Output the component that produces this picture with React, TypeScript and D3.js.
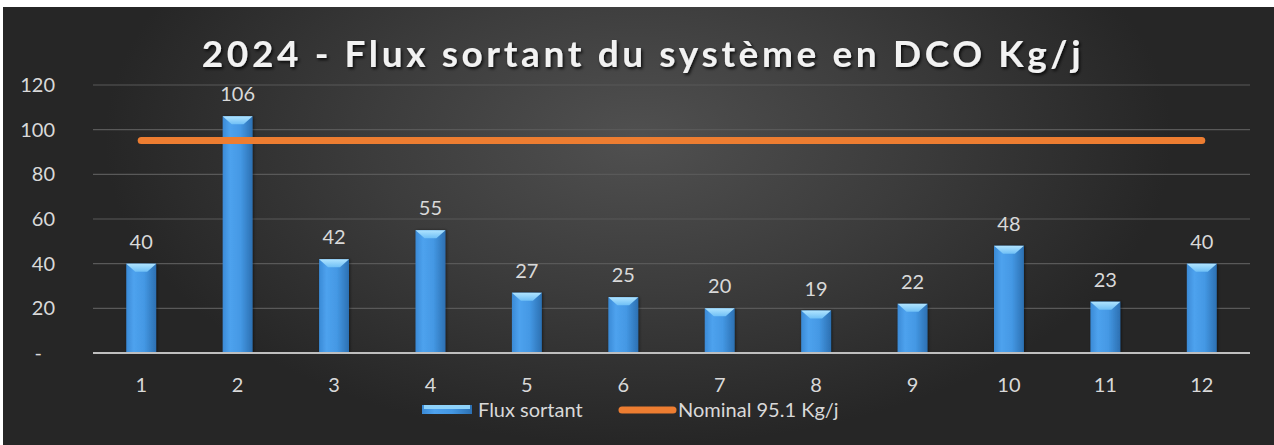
import React from "react";
import * as d3 from "d3";

const categories = ["1", "2", "3", "4", "5", "6", "7", "8", "9", "10", "11", "12"];
const fluxValues = [40, 106, 42, 55, 27, 25, 20, 19, 22, 48, 23, 40];
const nominalValue = 95.1;
const yTicks = [0, 20, 40, 60, 80, 100, 120];
const titleText = "2024 - Flux sortant du système en DCO Kg/j";
const legendLabels = ["Flux sortant", "Nominal 95.1 Kg/j"];

const W = 1274;
const H = 445;
const FONT = "Lato, 'Open Sans', sans-serif";

export default function App() {
  const plotLeft = 93;
  const plotRight = 1250;
  const plotTop = 85;
  const plotBottom = 353;

  const x = d3.scaleBand<string>().domain(categories).range([plotLeft, plotRight]).paddingInner(0.69).paddingOuter(0.345);
  const y = d3.scaleLinear().domain([0, 120]).range([plotBottom, plotTop]);
  const bw = x.bandwidth();
  const cx = (c: string) => (x(c) as number) + bw / 2;

  const lineGen = d3.line<number>().x((_, i) => cx(categories[i])).y((v) => y(v));
  const nominalLine = lineGen(categories.map(() => nominalValue)) || "";

  return (
    <svg width={W} height={H} style={{ position: "absolute", left: 0, top: 0 }} fontFamily={FONT}>
      <defs>
        <radialGradient id="bg" cx="0.5" cy="0.3" r="0.7" gradientTransform="translate(0.5 0.3) scale(0.6 1) translate(-0.5 -0.3)">
          <stop offset="0" stopColor="#505050" />
          <stop offset="0.5" stopColor="#3c3c3c" />
          <stop offset="1" stopColor="#262626" />
        </radialGradient>
        <linearGradient id="barG" x1="0" x2="1" y1="0" y2="0">
          <stop offset="0" stopColor="#3a8ad6" />
          <stop offset="0.25" stopColor="#4ea2ee" />
          <stop offset="0.6" stopColor="#4498e4" />
          <stop offset="1" stopColor="#2c70b2" />
        </linearGradient>
        <linearGradient id="bevG" x1="0" x2="0" y1="0" y2="1">
          <stop offset="0" stopColor="#b0e4ff" />
          <stop offset="1" stopColor="#70c0f6" />
        </linearGradient>
        <filter id="tsh" x="-5%" y="-30%" width="110%" height="160%">
          <feDropShadow dx="1.5" dy="2" stdDeviation="1.5" floodColor="#000" floodOpacity="0.8" />
        </filter>
        <filter id="bsh" x="-30%" y="-10%" width="160%" height="120%">
          <feDropShadow dx="1" dy="0" stdDeviation="1.5" floodColor="#000" floodOpacity="0.5" />
        </filter>
      </defs>
      <rect x={0} y={0} width={W} height={H} fill="#ffffff" />
      <rect x={3} y={7} width={W - 3} height={H - 7} fill="url(#bg)" />

      <text x={643} y={67} textAnchor="middle" fontSize={37} fontWeight={700} fill="#f2f2f2" letterSpacing={3.6} filter="url(#tsh)">
        {titleText}
      </text>

      {yTicks.map((t) => (
        <g key={t}>
          {t > 0 && <line x1={plotLeft} x2={plotRight} y1={y(t)} y2={y(t)} stroke="#595959" strokeWidth={1.2} />}
          <text x={t === 0 ? 42 : 55} y={y(t)} dy="0.35em" textAnchor="end" fontSize={20} fill="#d9d9d9">
            {t === 0 ? "-" : t}
          </text>
        </g>
      ))}

      {categories.map((c, i) => {
        const x0 = x(c) as number;
        const top = y(fluxValues[i]);
        const bev = Math.min(8, (plotBottom - top) / 2);
        return (
          <g key={c}>
            <rect x={x0} y={top} width={bw} height={plotBottom - top} fill="url(#barG)" filter="url(#bsh)" />
            <polygon
              points={`${x0},${top} ${x0 + bw},${top} ${x0 + bw - 9},${top + bev} ${x0 + 9},${top + bev}`}
              fill="url(#bevG)"
            />
            <text x={cx(c)} y={top - 15} textAnchor="middle" fontSize={20} fill="#d9d9d9">
              {fluxValues[i]}
            </text>
            <text x={cx(c)} y={385} dy="0.35em" textAnchor="middle" fontSize={20} fill="#d9d9d9">
              {c}
            </text>
          </g>
        );
      })}

      <line x1={plotLeft} x2={plotRight} y1={plotBottom} y2={plotBottom} stroke="#bfbfbf" strokeWidth={2} />

      <path d={nominalLine} fill="none" stroke="#ed7d31" strokeWidth={7} strokeLinecap="round" />

      <g>
        <rect x={422} y={405} width={50} height={9} fill="url(#barG)" />
        <rect x={424} y={405} width={46} height={4} fill="#8ed2fa" />
        <text x={478} y={410} dy="0.35em" fontSize={20} fill="#d9d9d9">{legendLabels[0]}</text>
        <line x1={622} x2={673} y1={410} y2={410} stroke="#ed7d31" strokeWidth={7} strokeLinecap="round" />
        <text x={678} y={410} dy="0.35em" fontSize={20} fill="#d9d9d9">{legendLabels[1]}</text>
      </g>
    </svg>
  );
}
